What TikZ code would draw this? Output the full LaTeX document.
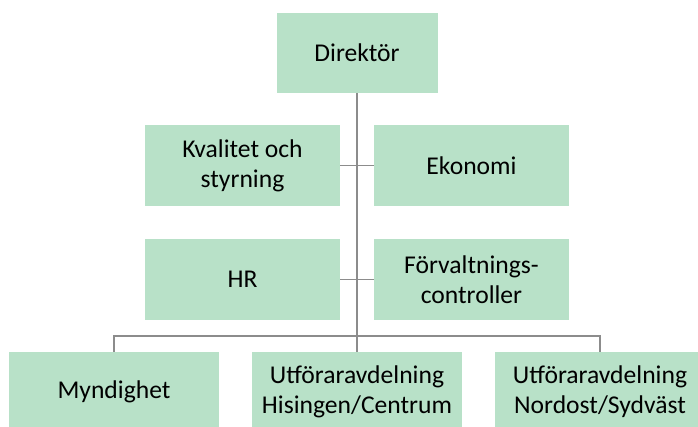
\documentclass[tikz,border=0pt]{standalone}
\usepackage{fontspec}
\setmainfont{Carlito}
\usepackage{tikz}
\usetikzlibrary{positioning}
\definecolor{MintFill}{HTML}{B8E1C8}
\definecolor{LineGray}{HTML}{8C8C8C}

\begin{document}
\begin{tikzpicture}[x=0.75pt,y=-0.75pt,
    unit/.style={fill=MintFill,draw=none,inner sep=0pt,
    minimum width=195*0.75pt,minimum height=81*0.75pt,align=center,
    font=\fontsize{19.2}{22.5}\selectfont},
    link/.style={draw=LineGray,line width=1.1pt}]
    \clip (0,0) rectangle (698,427);
    \node[unit,minimum width=161*0.75pt,minimum height=80*0.75pt] (dir) at (357,53) {Direktör};
    \node[unit] (kval) at (242.5,165.5) {Kvalitet och\\styrning};
    \node[unit] (eko) at (471.5,165.5) {Ekonomi};
    \node[unit] (hr) at (242.5,279.5) {HR};
    \node[unit] (forv) at (471.5,279.5) {Förvaltnings-\\controller};
    \node[unit,minimum width=210*0.75pt,minimum height=80*0.75pt] (mynd) at (114,392) {Myndighet};
    \node[unit,minimum width=210*0.75pt,minimum height=80*0.75pt] (hisi) at (357,392) {Utföraravdelning\\Hisingen/Centrum};
    \node[unit,minimum width=210*0.75pt,minimum height=80*0.75pt] (nord) at (600,392) {Utföraravdelning\\Nordost/Sydväst};
    \coordinate (bus) at (357,336);
    \draw[link] (kval) -- (eko);
    \draw[link] (hr) -- (forv);
    \draw[link] (mynd.north) |- (bus) -| (nord.north);
    \draw[link] (dir) -- (hisi);
  \end{tikzpicture}
\end{document}
